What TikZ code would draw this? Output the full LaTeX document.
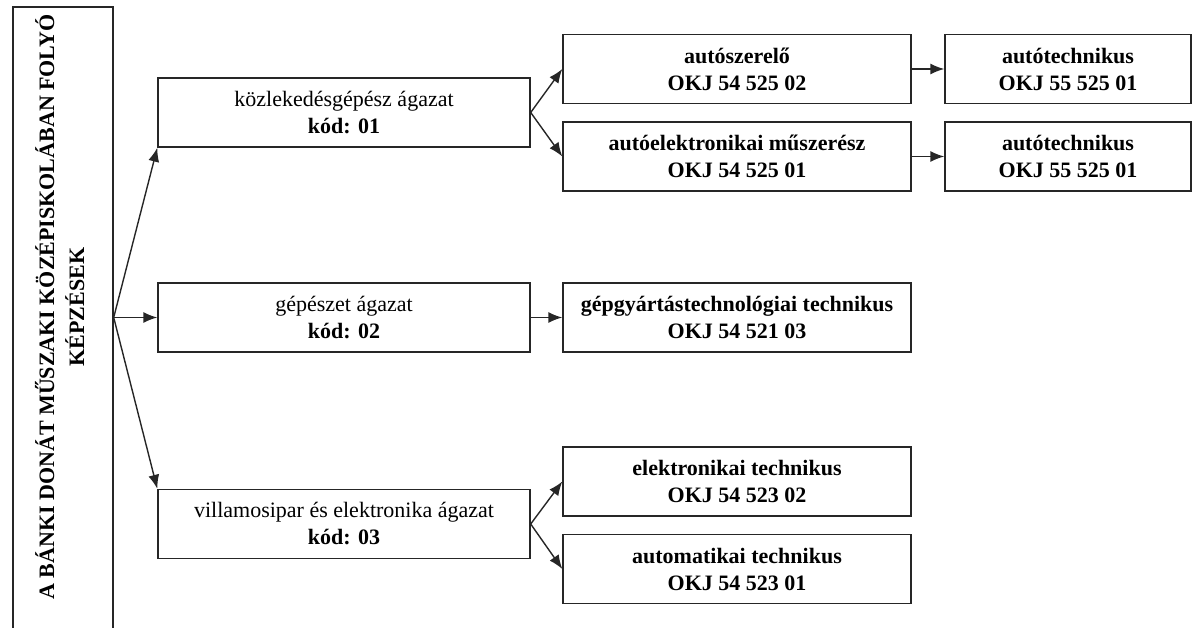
\documentclass[tikz,border=0pt]{standalone}
\usepackage{fontspec}
\setmainfont{Liberation Serif}
\usepackage{graphicx}
\usetikzlibrary{positioning, arrows.meta}

\begin{document}
\begin{tikzpicture}[x=1pt, y=1pt, draw=black!85, line width=0.7pt, node distance=196.5pt,
		font=\fontsize{11}{13.5}\selectfont,
		cimdoboz/.style={draw, rectangle, minimum width=50pt, minimum height=320pt, inner sep=0pt},
		agazat/.style={draw, rectangle, minimum height=34.5pt, minimum width=186pt, align=center},
		kepzes/.style={draw, rectangle, minimum height=34.5pt, minimum width=174pt, align=center, font=\fontsize{11}{13.5}\selectfont\bfseries},
		tovabb/.style={kepzes, minimum width=123pt},
		nyil/.style={-{Latex[length=7pt, width=5.5pt]}}]
		\clip (0,0) rectangle (596,313.5);
		%cim
		\node[cimdoboz] (cim) at (31.5,150) {\rotatebox{90}{\hspace{20pt}\fontsize{11}{15}\selectfont\bfseries
			\begin{tabular}{@{}c@{}}A BÁNKI DONÁT MŰSZAKI KÖZÉPISKOLÁBAN FOLYÓ\\KÉPZÉSEK\end{tabular}}};
		%agazatok
		\node[agazat] (kozl) at (172,257.25) {közlekedésgépész ágazat\\\textbf{kód: 01}};
		\node[agazat] (gepesz) at (172,154.75) {gépészet ágazat\\\textbf{kód: 02}};
		\node[agazat] (villamos) at (172,51.5) {villamosipar és elektronika ágazat\\\textbf{kód: 03}};
		%kepzesek
		\node[kepzes, right of=kozl, yshift=21.75pt] (autoszer) {autószerelő\\OKJ 54 525 02};
		\node[kepzes, right of=kozl, yshift=-22pt] (autoelek) {autóelektronikai műszerész\\OKJ 54 525 01};
		\node[kepzes, right of=gepesz] (gepgyart) {gépgyártástechnológiai technikus\\OKJ 54 521 03};
		\node[kepzes, right of=villamos, yshift=21.25pt] (elektr) {elektronikai technikus\\OKJ 54 523 02};
		\node[kepzes, right of=villamos, yshift=-22.5pt] (automat) {automatikai technikus\\OKJ 54 523 01};
		%tovabbkepzes
		\node[tovabb, node distance=165.5pt, right of=autoszer] (autotech1) {autótechnikus\\OKJ 55 525 01};
		\node[tovabb, node distance=165.5pt, right of=autoelek] (autotech2) {autótechnikus\\OKJ 55 525 01};
		%nyilak
		\coordinate (elag) at (cim.east |- gepesz.west);
		\draw[nyil] (elag) -- (kozl.south west);
		\draw[nyil] (elag) -- (gepesz.west);
		\draw[nyil] (elag) -- (villamos.north west);
		\draw[nyil] (kozl.east) -- (autoszer.west);
		\draw[nyil] (kozl.east) -- (autoelek.west);
		\draw[nyil] (gepesz.east) -- (gepgyart.west);
		\draw[nyil] (villamos.east) -- (elektr.west);
		\draw[nyil] (villamos.east) -- (automat.west);
		\draw[nyil] (autoszer.east) -- (autotech1.west);
		\draw[nyil] (autoelek.east) -- (autotech2.west);
\end{tikzpicture}
\end{document}
